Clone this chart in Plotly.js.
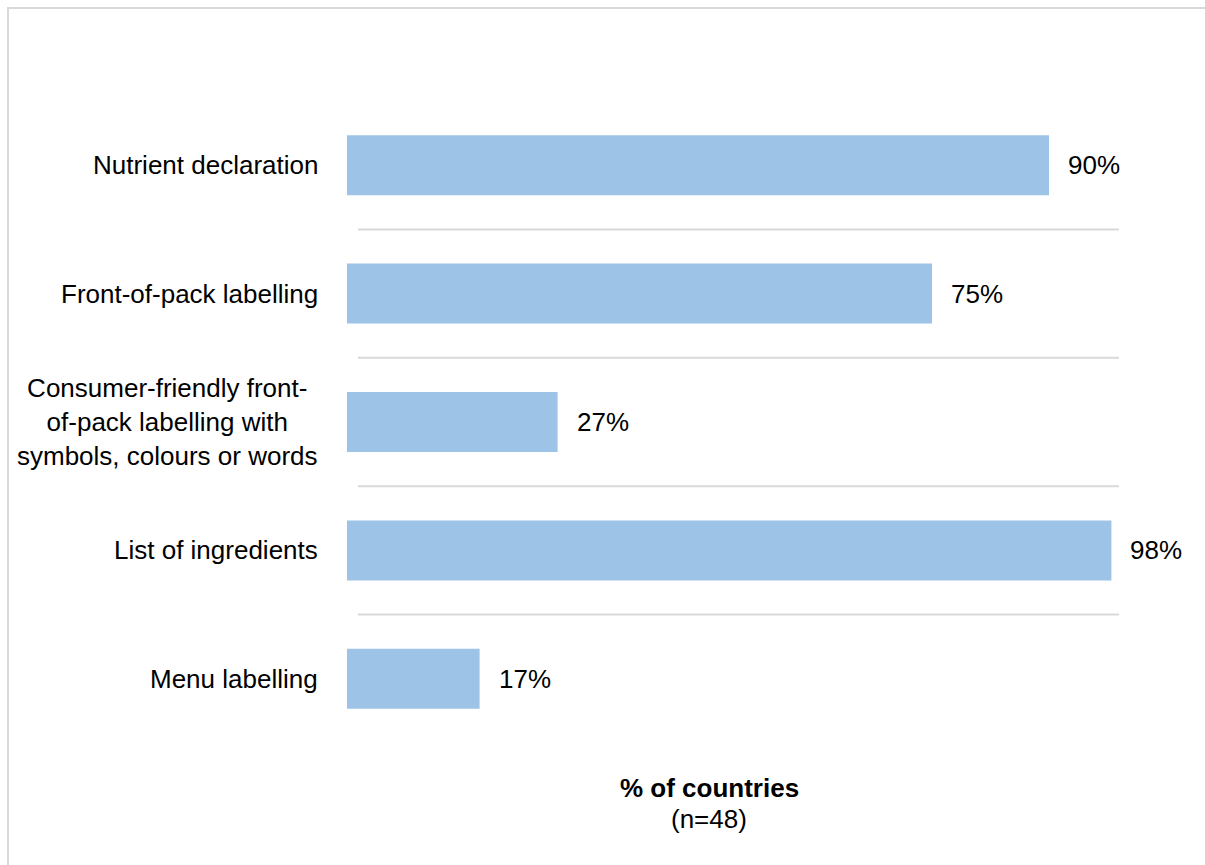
<!DOCTYPE html>
<html>
<head>
<meta charset="utf-8">
<script src="https://cdn.plot.ly/plotly-3.0.1.min.js"></script>
<style>html,body{margin:0;padding:0;background:#fff;}#chart{width:1205px;height:865px;}</style>
</head>
<body>
<div id="chart"></div>
<script>
const categories = [
  "Nutrient declaration",
  "Front-of-pack labelling",
  "Consumer-friendly front-<br>of-pack labelling with<br>symbols, colours or words",
  "List of ingredients",
  "Menu labelling"
];
const values = [90, 75, 27, 98, 17];
const valueLabels = ["90%", "75%", "27%", "98%", "17%"];
const axisTitle = "% of countries";
const axisSubtitle = "(n=48)";

const FONT = "Liberation Sans, Arial, sans-serif";
const W = 1205, H = 865;
const L = 347, R = 78, T = 101, B = 122;
const pw = W - L - R, ph = H - T - B;
const px = v => (v - L) / pw;          // pixel x -> paper
const py = v => (H - B - v) / ph;      // pixel y -> paper

const trace = {
  type: "bar",
  orientation: "h",
  y: categories,
  x: values,
  marker: {color: "#9DC3E6", line: {width: 0}},
  width: 0.467,
  hoverinfo: "skip"
};

const annotations = [];
categories.forEach((c, i) => {
  annotations.push({
    xref: "paper", yref: "y", x: 0, y: c, xanchor: "right", yanchor: "middle",
    xshift: -27, text: c, showarrow: false, align: "center",
    font: {family: FONT, size: 26, color: "#000"}
  });
  annotations.push({
    xref: "x", yref: "y", x: values[i], y: c, xanchor: "left", yanchor: "middle",
    xshift: 17, text: valueLabels[i], showarrow: false,
    font: {family: FONT, size: 26, color: "#000"}
  });
});
annotations.push({
  xref: "paper", yref: "paper", x: px(709), y: py(788), xanchor: "center", yanchor: "middle",
  text: "<b>" + axisTitle + "</b>", showarrow: false,
  font: {family: FONT, size: 26, color: "#000"}
});
annotations.push({
  xref: "paper", yref: "paper", x: px(709), y: py(819), xanchor: "center", yanchor: "middle",
  text: axisSubtitle, showarrow: false,
  font: {family: FONT, size: 26, color: "#000"}
});

const shapes = [];
for (let i = 0; i < categories.length - 1; i++) {
  shapes.push({
    type: "line", xref: "paper", yref: "y",
    x0: px(358), x1: px(1119), y0: i + 0.5, y1: i + 0.5,
    line: {color: "#D9D9D9", width: 2}
  });
}
shapes.push({
  type: "rect", xref: "paper", yref: "paper",
  x0: px(8), x1: px(1212), y0: py(8), y1: py(880),
  line: {color: "#D9D9D9", width: 2}, fillcolor: "rgba(0,0,0,0)"
});

const layout = {
  width: W, height: H,
  margin: {l: L, r: R, t: T, b: B, pad: 0},
  paper_bgcolor: "#fff", plot_bgcolor: "#fff",
  showlegend: false,
  xaxis: {range: [0, 100], visible: false, fixedrange: true},
  yaxis: {type: "category", autorange: "reversed", showticklabels: false,
          showgrid: false, zeroline: false, showline: false, ticks: "", fixedrange: true},
  bargap: 0.533,
  annotations: annotations,
  shapes: shapes,
  font: {family: FONT, size: 26, color: "#000"}
};

Plotly.newPlot("chart", [trace], layout, {displayModeBar: false, staticPlot: true});
</script>
</body>
</html>
